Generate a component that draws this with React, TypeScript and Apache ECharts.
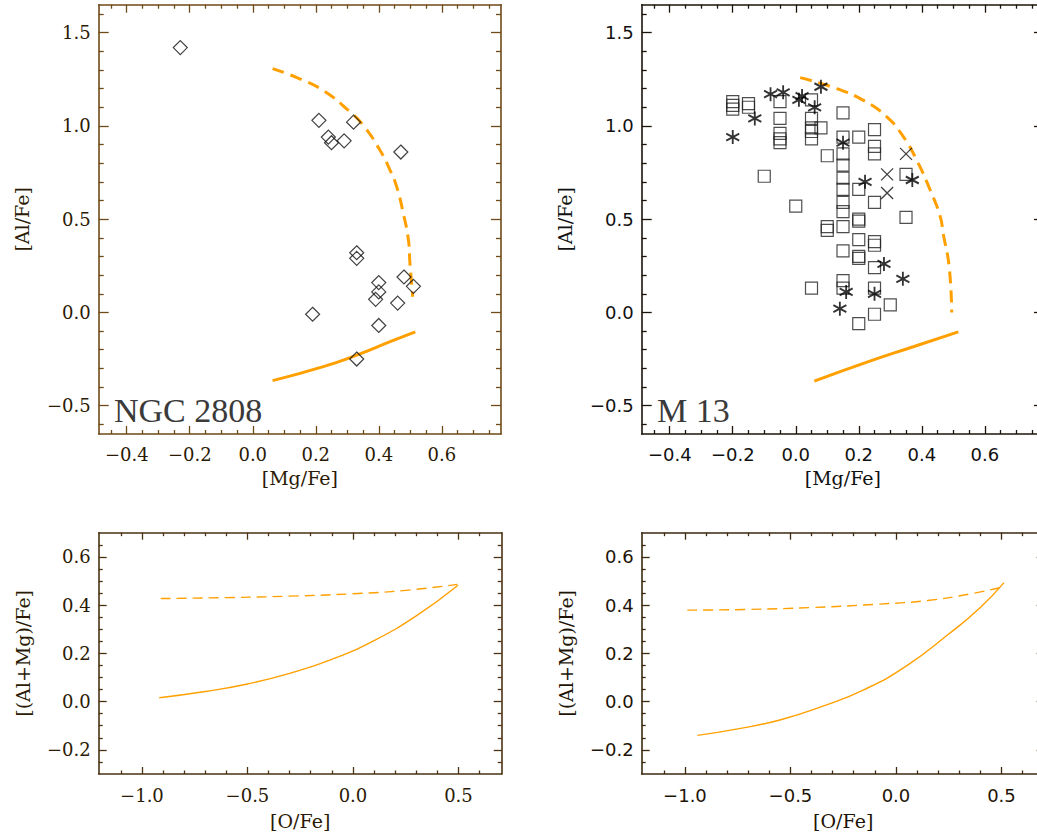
import React, { useEffect, useRef } from 'react';
import * as echarts from 'echarts';

// ---------- data ----------
// NGC 2808 (diamonds)
const ngcMg = [-0.23, 0.21, 0.32, 0.24, 0.25, 0.29, 0.47, 0.33, 0.33, 0.48, 0.51, 0.40, 0.40, 0.39, 0.46, 0.19, 0.40, 0.33];
const ngcAl = [1.42, 1.03, 1.02, 0.94, 0.91, 0.92, 0.86, 0.32, 0.29, 0.19, 0.14, 0.16, 0.11, 0.07, 0.05, -0.01, -0.07, -0.25];

// M 13 squares
const m13SqMg = [-0.20, -0.20, -0.20, -0.15, -0.15, -0.05, -0.05, -0.05, -0.05, -0.05, 0.05, 0.05, 0.05, 0.05, 0.08, 0.05,
  0.15, 0.15, 0.15, 0.15, 0.15, 0.15, 0.15, 0.15, 0.15, 0.15, 0.15, 0.15, 0.20, 0.25, 0.25, 0.25, 0.10, -0.10, 0.20, 0.25,
  0.35, 0.00, 0.20, 0.20, 0.35, 0.10, 0.10, 0.20, 0.20, 0.20, 0.25, 0.25, 0.25, 0.25, 0.25, 0.20, 0.30, 0.05];
const m13SqAl = [1.13, 1.11, 1.09, 1.12, 1.10, 1.13, 1.04, 0.96, 0.93, 0.91, 1.04, 0.99, 0.97, 0.93, 0.99, 1.14,
  1.07, 0.94, 0.85, 0.79, 0.72, 0.66, 0.59, 0.54, 0.46, 0.33, 0.17, 0.13, 0.94, 0.98, 0.89, 0.85, 0.84, 0.73, 0.66, 0.59,
  0.74, 0.57, 0.50, 0.49, 0.51, 0.46, 0.44, 0.39, 0.30, 0.29, 0.38, 0.36, 0.24, 0.13, -0.01, -0.06, 0.04, 0.13];
// M 13 asterisks
const m13StMg = [-0.20, -0.13, -0.08, -0.04, 0.01, 0.02, 0.06, 0.08, 0.15, 0.22, 0.37, 0.28, 0.34, 0.16, 0.25, 0.14];
const m13StAl = [0.94, 1.04, 1.17, 1.18, 1.14, 1.16, 1.10, 1.21, 0.91, 0.70, 0.71, 0.26, 0.18, 0.11, 0.10, 0.02];
// M 13 crosses
const m13XMg = [0.35, 0.29, 0.29];
const m13XAl = [0.85, 0.74, 0.64];

// model curves, top panels
const ngcDashMg = [0.063, 0.14, 0.224, 0.309, 0.351, 0.404, 0.436, 0.457, 0.478, 0.494, 0.499, 0.508];
const ngcDashAl = [1.307, 1.259, 1.19, 1.075, 1.003, 0.869, 0.762, 0.673, 0.53, 0.39, 0.262, 0.084];
const ngcSolidMg = [0.063, 0.224, 0.33, 0.436, 0.516];
const ngcSolidAl = [-0.366, -0.291, -0.229, -0.157, -0.104];
const m13DashMg = [0.014, 0.13, 0.215, 0.289, 0.342, 0.384, 0.427, 0.459, 0.468, 0.487, 0.495];
const m13DashAl = [1.259, 1.2, 1.137, 1.048, 0.941, 0.816, 0.655, 0.512, 0.423, 0.244, 0.0];
const m13SolidMg = [0.059, 0.215, 0.373, 0.516];
const m13SolidAl = [-0.368, -0.273, -0.184, -0.104];

// model curves, bottom panels
const blDashO = [-0.911, -0.6, -0.3, 0.0, 0.25, 0.495];
const blDashS = [0.427, 0.431, 0.437, 0.447, 0.461, 0.486];
const blSolidO = [-0.918, -0.7, -0.5, -0.3, -0.1, 0.1, 0.3, 0.498];
const blSolidS = [0.016, 0.042, 0.073, 0.117, 0.175, 0.253, 0.355, 0.482];
const brDashO = [-0.989, -0.7, -0.4, -0.1, 0.15, 0.35, 0.493];
const brDashS = [0.379, 0.382, 0.39, 0.403, 0.419, 0.446, 0.472];
const brSolidO = [-0.941, -0.75, -0.55, -0.35, -0.15, 0.05, 0.25, 0.4, 0.512];
const brSolidS = [-0.14, -0.113, -0.076, -0.02, 0.05, 0.148, 0.28, 0.39, 0.493];

// ticks
const topMgMajor = [-0.4, -0.2, 0, 0.2, 0.4, 0.6];
const topMgMinor = [-0.45, -0.35, -0.3, -0.25, -0.15, -0.1, -0.05, 0.05, 0.1, 0.15, 0.25, 0.3, 0.35, 0.45, 0.5, 0.55, 0.65, 0.7, 0.75];
const topAlMajor = [-0.5, 0, 0.5, 1.0, 1.5];
const topAlMinor = [-0.6, -0.4, -0.3, -0.2, -0.1, 0.1, 0.2, 0.3, 0.4, 0.6, 0.7, 0.8, 0.9, 1.1, 1.2, 1.3, 1.4, 1.6];
const botOMajor = [-1.0, -0.5, 0, 0.5];
const botOMinor = [-1.1, -0.9, -0.8, -0.7, -0.6, -0.4, -0.3, -0.2, -0.1, 0.1, 0.2, 0.3, 0.4, 0.6];
const botSMajor = [-0.2, 0, 0.2, 0.4, 0.6];
const botSMinor = [-0.25, -0.15, -0.1, -0.05, 0.05, 0.1, 0.15, 0.25, 0.3, 0.35, 0.45, 0.5, 0.55, 0.65];

const panelNames = ['NGC 2808', 'M 13'];

// ---------- styling ----------
const ORANGE = '#ffa000';
const TITLE_FONT = '"DejaVu Serif", serif';

const pair = (xs: number[], ys: number[]) => xs.map((x, i) => [x, ys[i]]);
const fmt = (v: number) => v.toFixed(1).replace('-', '\u2212');

type Panel = {
  grid: { left: number; top: number; width: number; height: number };
  xr: [number, number];
  yr: [number, number];
  xMaj: number[]; xMin: number[]; yMaj: number[]; yMin: number[];
  axisColor: string; textColor: string; tickFont: string;
  xName: string; yName: string; xNameGap: number; yNameGap: number;
  xLabelMargin: number; xTickLen: number; yTickLen: number;
};

const panels: Panel[] = [
  {
    grid: { left: 98.7, top: 4.7, width: 402.3, height: 429.3 }, xr: [-0.489, 0.788], yr: [-0.652, 1.65],
    xMaj: topMgMajor, xMin: topMgMinor, yMaj: topAlMajor, yMin: topAlMinor,
    axisColor: '#6e4a18', textColor: '#2b1a05', tickFont: '"DejaVu Serif", serif',
    xName: '[Mg/Fe]', yName: '[Al/Fe]', xNameGap: 34, yNameGap: 67, xLabelMargin: 11, xTickLen: 8, yTickLen: 10,
  },
  {
    grid: { left: 641.7, top: 4.7, width: 402.3, height: 429.3 }, xr: [-0.489, 0.788], yr: [-0.652, 1.65],
    xMaj: topMgMajor, xMin: topMgMinor, yMaj: topAlMajor, yMin: topAlMinor,
    axisColor: '#1c140a', textColor: '#111111', tickFont: '"DejaVu Sans", sans-serif',
    xName: '[Mg/Fe]', yName: '[Al/Fe]', xNameGap: 34, yNameGap: 67, xLabelMargin: 11, xTickLen: 8, yTickLen: 10,
  },
  {
    grid: { left: 98.7, top: 532.7, width: 403, height: 241.3 }, xr: [-1.205, 0.705], yr: [-0.3, 0.7],
    xMaj: botOMajor, xMin: botOMinor, yMaj: botSMajor, yMin: botSMinor,
    axisColor: '#4a3212', textColor: '#2b1a05', tickFont: '"DejaVu Serif", serif',
    xName: '[O/Fe]', yName: '[(Al+Mg)/Fe]', xNameGap: 37, yNameGap: 66, xLabelMargin: 12, xTickLen: 7, yTickLen: 8,
  },
  {
    grid: { left: 641.7, top: 532.7, width: 403, height: 241.3 }, xr: [-1.205, 0.705], yr: [-0.3, 0.7],
    xMaj: botOMajor, xMin: botOMinor, yMaj: botSMajor, yMin: botSMinor,
    axisColor: '#3c2a10', textColor: '#1e1406', tickFont: '"DejaVu Sans", sans-serif',
    xName: '[O/Fe]', yName: '[(Al+Mg)/Fe]', xNameGap: 37, yNameGap: 66, xLabelMargin: 12, xTickLen: 7, yTickLen: 8,
  },
];

function buildAxes(p: Panel, gi: number, dim: 'x' | 'y') {
  const isX = dim === 'x';
  const [mn, mx] = isX ? p.xr : p.yr;
  const maj = isX ? p.xMaj : p.yMaj;
  const minr = isX ? p.xMin : p.yMin;
  const tl = isX ? p.xTickLen : p.yTickLen;
  const sides = isX ? ['bottom', 'top'] : ['left', 'right'];
  const axes: any[] = [];
  sides.forEach((pos, si) => {
    [true, false].forEach((major) => {
      const withLabel = si === 0 && major;
      axes.push({
        type: 'value', gridIndex: gi, position: pos, min: mn, max: mx,
        axisLine: { show: major, onZero: false, lineStyle: { color: p.axisColor, width: 1.6 } },
        axisTick: {
          show: true, inside: true, length: major ? tl : tl / 2,
          customValues: major ? maj : minr,
          lineStyle: { color: p.axisColor, width: 1.3 },
        },
        axisLabel: withLabel
          ? {
              show: true, customValues: maj, formatter: fmt,
              margin: isX ? p.xLabelMargin : 8,
              color: p.textColor, fontFamily: p.tickFont, fontSize: 18,
            }
          : { show: false },
        splitLine: { show: false },
        minorTick: { show: false },
        name: withLabel ? (isX ? p.xName : p.yName) : '',
        nameLocation: 'middle',
        nameGap: isX ? p.xNameGap : p.yNameGap,
        nameRotate: isX ? 0 : 90,
        nameTextStyle: { color: p.textColor, fontFamily: TITLE_FONT, fontSize: 19 },
        z: 5,
      });
    });
  });
  return axes;
}

const hollow = (c: string, w: number) => ({ color: 'rgba(0,0,0,0)', borderColor: c, borderWidth: w });
const STAR = 'path://M6,0 L6,12 M0.8,3 L11.2,9 M0.8,9 L11.2,3';
const CROSS = 'path://M0,0 L12,12 M0,12 L12,0';

function lineSeries(gi: number, data: number[][], dashed: boolean, width: number, dash: number[]) {
  return {
    type: 'line', xAxisIndex: gi * 4, yAxisIndex: gi * 4, data,
    showSymbol: false, symbol: 'none', smooth: 0.5,
    lineStyle: { color: ORANGE, width, type: dashed ? dash : 'solid', cap: 'butt' },
    silent: true, z: 2,
  };
}

export default function App() {
  const ref = useRef<HTMLDivElement>(null);
  useEffect(() => {
    if (!ref.current) return;
    const chart = echarts.init(ref.current, undefined, { renderer: 'svg' });
    const xAxis: any[] = [];
    const yAxis: any[] = [];
    panels.forEach((p, gi) => {
      xAxis.push(...buildAxes(p, gi, 'x'));
      yAxis.push(...buildAxes(p, gi, 'y'));
    });
    const option: any = {
      animation: false,
      backgroundColor: '#ffffff',
      grid: panels.map((p) => ({ ...p.grid, containLabel: false })),
      xAxis,
      yAxis,
      graphic: [
        {
          type: 'text', left: 114, top: 393,
          style: { text: panelNames[0], fontFamily: '"Liberation Serif", serif', fontSize: 34, fill: '#3a3a3a' },
        },
        {
          type: 'text', left: 657, top: 393,
          style: { text: panelNames[1], fontFamily: '"Liberation Serif", serif', fontSize: 34, fill: '#3a3a3a' },
        },
      ],
      series: [
        lineSeries(0, pair(ngcDashMg, ngcDashAl), true, 3, [12, 7]),
        lineSeries(0, pair(ngcSolidMg, ngcSolidAl), false, 3, []),
        {
          type: 'scatter', xAxisIndex: 0, yAxisIndex: 0, data: pair(ngcMg, ngcAl),
          symbol: 'diamond', symbolSize: 14, itemStyle: hollow('#111111', 1.2), z: 4,
        },
        lineSeries(1, pair(m13DashMg, m13DashAl), true, 3, [12, 7]),
        lineSeries(1, pair(m13SolidMg, m13SolidAl), false, 3, []),
        {
          type: 'scatter', xAxisIndex: 4, yAxisIndex: 4, data: pair(m13SqMg, m13SqAl),
          symbol: 'rect', symbolSize: 12, itemStyle: hollow('#222222', 1.2), z: 4,
        },
        {
          type: 'scatter', xAxisIndex: 4, yAxisIndex: 4, data: pair(m13StMg, m13StAl),
          symbol: STAR, symbolSize: [13, 14], itemStyle: hollow('#000000', 1.9), z: 5,
        },
        {
          type: 'scatter', xAxisIndex: 4, yAxisIndex: 4, data: pair(m13XMg, m13XAl),
          symbol: CROSS, symbolSize: 12, itemStyle: hollow('#111111', 1.3), z: 5,
        },
        lineSeries(2, pair(blDashO, blDashS), true, 1.4, [10, 6]),
        lineSeries(2, pair(blSolidO, blSolidS), false, 1.4, []),
        lineSeries(3, pair(brDashO, brDashS), true, 1.4, [10, 6]),
        lineSeries(3, pair(brSolidO, brSolidS), false, 1.4, []),
      ],
    };
    chart.setOption(option);
    return () => chart.dispose();
  }, []);
  return (
    <div style={{ position: 'absolute', left: 0, top: 0, width: 1037, height: 837, overflow: 'hidden', background: '#fff' }}>
      <div ref={ref} style={{ width: 1046, height: 837 }} />
    </div>
  );
}
